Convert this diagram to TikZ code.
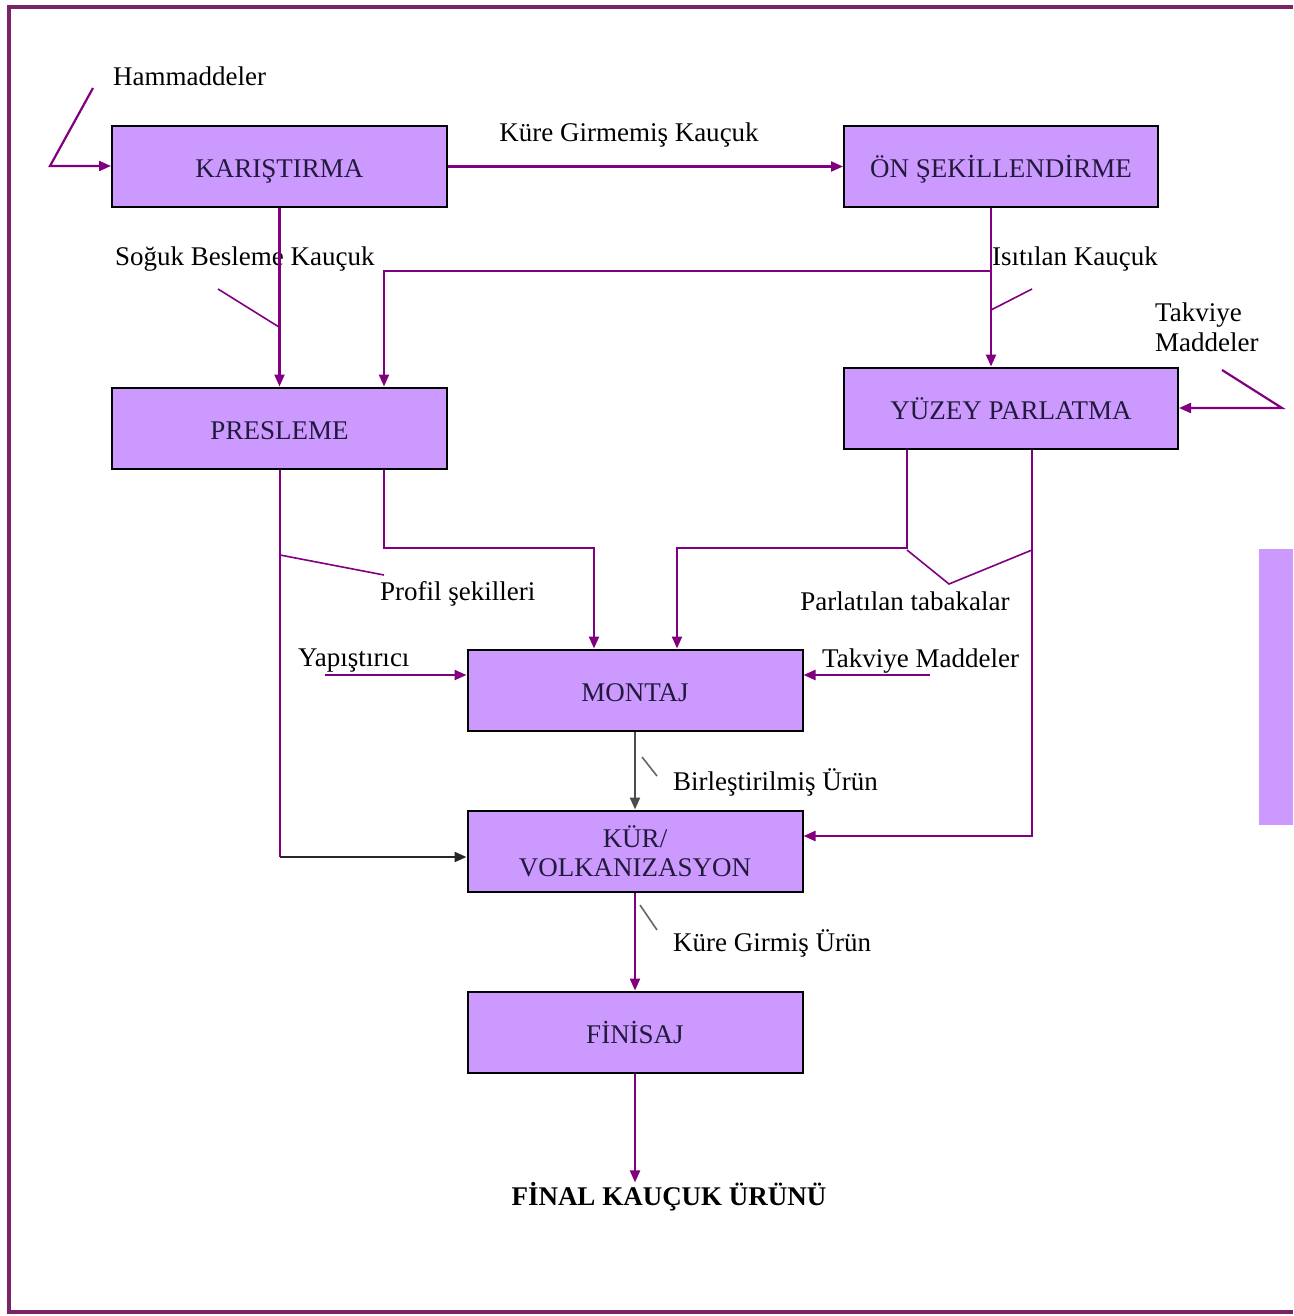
\documentclass[tikz,border=0pt]{standalone}
\usepackage{fontspec}
\setmainfont{Liberation Serif}
\usetikzlibrary{arrows.meta}
\definecolor{boxfill}{HTML}{CC99FF}
\definecolor{arrc}{HTML}{800080}
\definecolor{framec}{HTML}{7A2468}
\definecolor{boxtext}{HTML}{221A3C}
\begin{document}
\begin{tikzpicture}[x=1pt,y=-1pt,
  box/.style={draw=black, line width=2pt, fill=boxfill, minimum width=335pt, minimum height=81pt, inner sep=0pt, text=boxtext, font=\fontsize{27}{30}\selectfont, align=center, text height=22pt, text depth=0pt},
  lbl/.style={font=\fontsize{27}{30}\selectfont, inner sep=0pt, text=black},
  arr/.style={draw=arrc, line width=2.2pt, -{Triangle[length=12pt,width=10pt]}},
  ln/.style={draw=arrc, line width=2.2pt},
  lead/.style={draw=arrc, line width=1.6pt},
  blk/.style={draw=black!85, line width=2.2pt, -{Triangle[length=12pt,width=10pt]}}]
\useasboundingbox (0,0) rectangle (1293,1316);
\fill[white] (0,0) rectangle (1293,1316);
% frame
\draw[framec, line width=4pt] (1293,7) -- (9,7) -- (9,1312) -- (1293,1312);
% side rectangle
\fill[boxfill] (1259,549) rectangle (1293,825);

% boxes
\node[box] (kar) at (279.5,166.5) {KARIŞTIRMA};
\node[box, minimum width=314pt] (on) at (1001,166.5) {ÖN ŞEKİLLENDİRME};
\node[box] (pres) at (279.5,428) {PRESLEME};
\node[box, minimum width=334pt] (yuz) at (1011,408) {YÜZEY PARLATMA};
\node[box] (mon) at (635,690) {MONTAJ};
\node[box, font=\fontsize{27}{29}\selectfont, text height=, text depth=] (kur) at (635,851) {KÜR/\\VOLKANIZASYON};
\node[box] (fin) at (635,1032) {FİNİSAJ};
\node[lbl, font=\bfseries\fontsize{27}{30}\selectfont] (final) at (669,1197) {FİNAL KAUÇUK ÜRÜNÜ};

% labels
\node[lbl, anchor=west] (lham) at (113,76) {Hammaddeler};
\node[lbl] (lkgk) at (629,135) {Küre Girmemiş Kauçuk};
\node[lbl, anchor=west] (lsbk) at (115,259) {Soğuk Besleme Kauçuk};
\node[lbl, anchor=west] (lik) at (992,259) {Isıtılan Kauçuk};
\node[lbl, anchor=west, align=left] (ltm1) at (1155,327) {Takviye\\Maddeler};
\node[lbl, anchor=west] (lprof) at (380,594) {Profil şekilleri};
\node[lbl] (lpar) at (905,601) {Parlatılan tabakalar};
\node[lbl, anchor=west] (lyap) at (298,661) {Yapıştırıcı};
\node[lbl, anchor=west] (ltm2) at (822,661) {Takviye Maddeler};
\node[lbl, anchor=west] (lbir) at (673,782) {Birleştirilmiş Ürün};
\node[lbl, anchor=west] (lkgu) at (673,943) {Küre Girmiş Ürün};

% coordinates for free ends
\coordinate (h1) at (93,88);
\coordinate (h2) at (50,166);
\coordinate (t1) at (1222,370);
\coordinate (t2) at (1282,408);
\coordinate (yap0) at (325,675);
\coordinate (tak0) at (930,675);

% connectors
\draw[arr] (h1) -- (h2) -- (h2 -| kar.west);
\draw[arr] (kar.east) -- (on.west);
\draw[arr] (kar.south) -- (pres.north);
\draw[arr] (on.south -| 991,0) -- (yuz.north -| 991,0);
\draw[arr] (991,271) -- (384,271) -- (pres.north -| 384,0);
\draw[arr] (t1) -- (t2) -- (t2 -| yuz.east);
% presleme outputs
\draw[ln] (pres.south -| 280,0) -- (280,857);
\draw[blk] (280,857) -- (kur.west |- 0,857);
\draw[arr] (pres.south -| 384,0) -- (384,548) -- (594,548) -- (mon.north -| 594,0);
% yuzey outputs
\draw[arr] (yuz.south -| 907,0) -- (907,548) -- (677,548) -- (mon.north -| 677,0);
\draw[arr] (yuz.south -| 1032,0) -- (1032,836) -- (kur.east |- 0,836);
% side inputs to montaj
\draw[arr] (yap0) -- (yap0 -| mon.west);
\draw[arr] (tak0) -- (tak0 -| mon.east);
% vertical chain
\draw[blk, draw=black!70] (mon.south) -- (kur.north);
\draw[arr] (kur.south) -- (fin.north);
\draw[arr] (fin.south) -- (final.north -| fin.south);

% leader lines
\draw[lead] (218,289) -- (279,327);
\draw[lead] (1032,289) -- (991,310);
\draw[lead] (280,555) -- (384,575);
\draw[lead] (907,550) -- (949,584) -- (1032,550);
\draw[lead, draw=black!60] (642,757) -- (657,776);
\draw[lead, draw=black!60] (640,905) -- (657,930);
\end{tikzpicture}
\end{document}
